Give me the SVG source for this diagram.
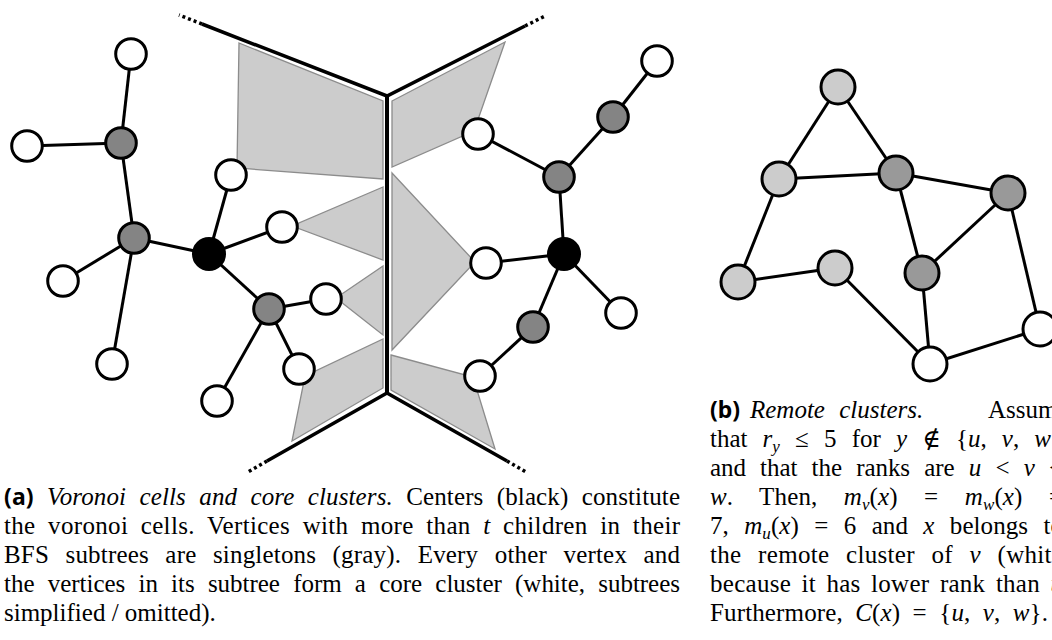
<svg xmlns="http://www.w3.org/2000/svg" width="1052" height="640" viewBox="0 0 1052 640">
<style>
.e{stroke:#000;stroke-width:3;fill:none}
.n{stroke:#000;stroke-width:3}
.w{fill:#fff}.g{fill:#848484}.k{fill:#000}.lg{fill:#cccccc}.dg{fill:#999999}
.cell{fill:#cccccc;stroke:#8c8c8c;stroke-width:1.3}
.bd{stroke:#000;stroke-width:3.5;fill:none}
.vt{stroke:#000;stroke-width:4;fill:none}
.dot{stroke:#000;stroke-width:3.5;stroke-dasharray:3 3;fill:none}
.cap{font-family:"Liberation Serif","DejaVu Serif",serif;font-size:25px;fill:#000}
.lbl{font-family:"Noto Sans","DejaVu Sans",sans-serif;font-weight:bold;font-size:23px}
.it{font-style:italic}
.sub{font-style:italic;font-size:17px}
</style>
<rect width="1052" height="640" fill="#fff"/>
<g id="voronoi">
<polygon class="cell" points="239,43 383,101 383,179 237,168"/>
<polygon class="cell" points="392,101 505,42 474,131 392,167"/>
<polygon class="cell" points="383,187 292,226 383,260"/>
<polygon class="cell" points="383,266 336,298 383,335"/>
<polygon class="cell" points="383,339 383,388 292,441 305,376"/>
<polygon class="cell" points="392,173 475,262 392,350"/>
<polygon class="cell" points="391,355 473,377 495,449 391,390"/>
<polyline class="bd" points="202,24 387,96 525,26"/>
<line class="vt" x1="387" y1="96" x2="387" y2="393"/>
<polyline class="bd" points="267,461 387,393 507,461"/>
<line class="dot" x1="202" y1="24" x2="179" y2="15"/>
<line class="dot" x1="525" y1="26" x2="546" y2="15.5"/>
<line class="dot" x1="267" y1="461" x2="248" y2="472"/>
<line class="dot" x1="507" y1="461" x2="526" y2="472"/>
</g>
<g id="connectors">
<line class="e" x1="131" y1="54" x2="121" y2="143"/>
<line class="e" x1="27" y1="146" x2="121" y2="143"/>
<line class="e" x1="121" y1="143" x2="134" y2="238"/>
<line class="e" x1="134" y1="238" x2="63" y2="281"/>
<line class="e" x1="134" y1="238" x2="112" y2="364"/>
<line class="e" x1="134" y1="238" x2="209" y2="254"/>
<line class="e" x1="209" y1="254" x2="231" y2="175"/>
<line class="e" x1="209" y1="254" x2="282" y2="227"/>
<line class="e" x1="209" y1="254" x2="269" y2="309"/>
<line class="e" x1="269" y1="309" x2="326" y2="299"/>
<line class="e" x1="269" y1="309" x2="299" y2="369"/>
<line class="e" x1="269" y1="309" x2="217" y2="401"/>
<line class="e" x1="657" y1="61" x2="613" y2="117"/>
<line class="e" x1="613" y1="117" x2="559" y2="177"/>
<line class="e" x1="559" y1="177" x2="478" y2="134"/>
<line class="e" x1="559" y1="177" x2="564" y2="254"/>
<line class="e" x1="564" y1="254" x2="486" y2="263"/>
<line class="e" x1="564" y1="254" x2="621" y2="313"/>
<line class="e" x1="564" y1="254" x2="533" y2="327"/>
<line class="e" x1="533" y1="327" x2="480" y2="376"/>
<line class="e" x1="838" y1="87" x2="779" y2="179"/>
<line class="e" x1="838" y1="87" x2="896" y2="173"/>
<line class="e" x1="779" y1="179" x2="896" y2="173"/>
<line class="e" x1="779" y1="179" x2="738" y2="282"/>
<line class="e" x1="738" y1="282" x2="835" y2="268"/>
<line class="e" x1="835" y1="268" x2="930" y2="364"/>
<line class="e" x1="896" y1="173" x2="1008" y2="193"/>
<line class="e" x1="896" y1="173" x2="922" y2="273"/>
<line class="e" x1="1008" y1="193" x2="922" y2="273"/>
<line class="e" x1="1008" y1="193" x2="1040" y2="329"/>
<line class="e" x1="922" y1="273" x2="930" y2="364"/>
<line class="e" x1="930" y1="364" x2="1040" y2="329"/>
</g>
<g id="a1"><circle class="n w" cx="131" cy="54" r="15.3"/></g>
<g id="a2"><circle class="n g" cx="121" cy="143" r="15.3"/></g>
<g id="a3"><circle class="n w" cx="27" cy="146" r="15.3"/></g>
<g id="a4"><circle class="n g" cx="134" cy="238" r="15.3"/></g>
<g id="a5"><circle class="n w" cx="63" cy="281" r="15.3"/></g>
<g id="a6"><circle class="n w" cx="112" cy="364" r="15.3"/></g>
<g id="a7"><circle class="n k" cx="209" cy="254" r="15.5"/></g>
<g id="a8"><circle class="n w" cx="231" cy="175" r="15.3"/></g>
<g id="a9"><circle class="n w" cx="282" cy="227" r="15.3"/></g>
<g id="a10"><circle class="n g" cx="269" cy="309" r="15.3"/></g>
<g id="a11"><circle class="n w" cx="326" cy="299" r="15.3"/></g>
<g id="a12"><circle class="n w" cx="299" cy="369" r="15.3"/></g>
<g id="a13"><circle class="n w" cx="217" cy="401" r="15.3"/></g>
<g id="a14"><circle class="n w" cx="657" cy="61" r="15.3"/></g>
<g id="a15"><circle class="n g" cx="613" cy="117" r="15.3"/></g>
<g id="a16"><circle class="n g" cx="559" cy="177" r="15.3"/></g>
<g id="a17"><circle class="n w" cx="478" cy="134" r="15.3"/></g>
<g id="a18"><circle class="n k" cx="564" cy="254" r="15.5"/></g>
<g id="a19"><circle class="n w" cx="486" cy="263" r="15.3"/></g>
<g id="a20"><circle class="n w" cx="621" cy="313" r="15.3"/></g>
<g id="a21"><circle class="n g" cx="533" cy="327" r="15.3"/></g>
<g id="a22"><circle class="n w" cx="480" cy="376" r="15.3"/></g>
<g id="b1"><circle class="n lg" cx="838" cy="87" r="17"/></g>
<g id="b2"><circle class="n lg" cx="779" cy="179" r="17"/></g>
<g id="b3"><circle class="n dg" cx="896" cy="173" r="17"/></g>
<g id="b4"><circle class="n dg" cx="1008" cy="193" r="17"/></g>
<g id="b5"><circle class="n lg" cx="738" cy="282" r="17"/></g>
<g id="b6"><circle class="n lg" cx="835" cy="268" r="17"/></g>
<g id="b7"><circle class="n dg" cx="922" cy="273" r="17"/></g>
<g id="b8"><circle class="n w" cx="1040" cy="329" r="17"/></g>
<g id="b9"><circle class="n w" cx="930" cy="364" r="17"/></g>
<g id="caption-a" class="cap">
<text x="4" y="505" word-spacing="7" textLength="676" lengthAdjust="spacing"><tspan class="lbl">(a)</tspan> <tspan class="it">Voronoi cells and core clusters.</tspan> Centers (black) constitute</text>
<text x="4" y="534" word-spacing="6" textLength="676" lengthAdjust="spacing">the voronoi cells. Vertices with more than <tspan class="it">t</tspan> children in their</text>
<text x="4" y="563" word-spacing="10" textLength="676" lengthAdjust="spacing">BFS subtrees are singletons (gray). Every other vertex and</text>
<text x="4" y="592" word-spacing="7" textLength="676" lengthAdjust="spacing">the vertices in its subtree form a core cluster (white, subtrees</text>
<text x="4" y="621">simplified / omitted).</text>
</g>
<g id="caption-b" class="cap">
<text y="418"><tspan class="lbl" x="710">(b)</tspan><tspan class="it" x="750" word-spacing="8">Remote clusters.</tspan><tspan x="988">Assume</tspan></text>
<text x="710" y="447" word-spacing="9" textLength="353" lengthAdjust="spacing">that <tspan class="it">r</tspan><tspan class="sub" dy="5">y</tspan><tspan dy="-5"> ≤ 5 for </tspan><tspan class="it">y</tspan> ∉ {<tspan class="it">u</tspan>, <tspan class="it">v</tspan>, <tspan class="it">w</tspan>}</text>
<text x="710" y="476" word-spacing="8" textLength="353" lengthAdjust="spacing">and that the ranks are <tspan class="it">u</tspan> &lt; <tspan class="it">v</tspan> &lt;</text>
<text x="710" y="505" word-spacing="20" textLength="353" lengthAdjust="spacing"><tspan class="it">w</tspan>. Then, <tspan class="it">m</tspan><tspan class="sub" dy="5">v</tspan><tspan dy="-5">(</tspan><tspan class="it">x</tspan>) = <tspan class="it">m</tspan><tspan class="sub" dy="5">w</tspan><tspan dy="-5">(</tspan><tspan class="it">x</tspan>) =</text>
<text x="710" y="534" word-spacing="9" textLength="353" lengthAdjust="spacing">7, <tspan class="it">m</tspan><tspan class="sub" dy="5">u</tspan><tspan dy="-5">(</tspan><tspan class="it">x</tspan>) = 6 and <tspan class="it">x</tspan> belongs to</text>
<text x="710" y="563" word-spacing="10" textLength="353" lengthAdjust="spacing">the remote cluster of <tspan class="it">v</tspan> (white</text>
<text x="710" y="592" word-spacing="4" textLength="353" lengthAdjust="spacing">because it has lower rank than <tspan class="it">u</tspan></text>
<text x="710" y="621" word-spacing="6" textLength="338" lengthAdjust="spacing">Furthermore, <tspan class="it">C</tspan>(<tspan class="it">x</tspan>) = {<tspan class="it">u</tspan>, <tspan class="it">v</tspan>, <tspan class="it">w</tspan>}.</text>
</g>
</svg>
